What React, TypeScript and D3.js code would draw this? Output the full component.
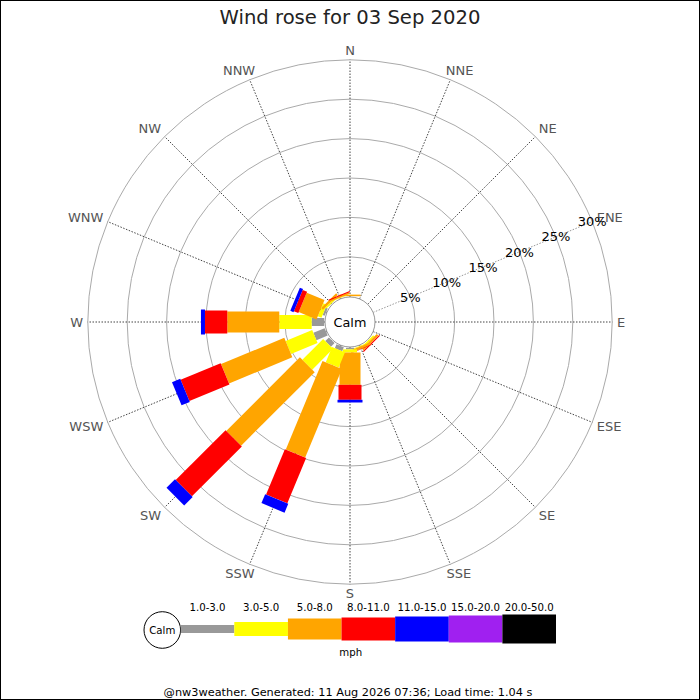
import React from "react";
import * as d3 from "d3";

const title = "Wind rose for 03 Sep 2020";
const footer = "@nw3weather. Generated: 11 Aug 2026 07:36; Load time: 1.04 s";
const unitLabel = "mph";
const calmLabel = "Calm";

const directions = ["N", "NNE", "NE", "ENE", "E", "ESE", "SE", "SSE", "S", "SSW", "SW", "WSW", "W", "WNW", "NW", "NNW"];
const speedRanges = ["1.0-3.0", "3.0-5.0", "5.0-8.0", "8.0-11.0", "11.0-15.0", "15.0-20.0", "20.0-50.0"];
const rangeColors = ["#999999", "#ffff00", "#ffa500", "#ff0000", "#0000ff", "#a020f0", "#000000"];
const gridTicks = [5, 10, 15, 20, 25, 30];

// percentage of time per speed range, one array per direction
const pctN = [0, 0, 0.2, 0, 0, 0, 0];
const pctNNE = [0, 0, 0, 0, 0, 0, 0];
const pctNE = [0, 0, 0, 0, 0, 0, 0];
const pctENE = [0, 0, 0, 0, 0, 0, 0];
const pctE = [0, 0, 0, 0, 0, 0, 0];
const pctESE = [0, 0, 0, 0, 0, 0, 0];
const pctSE = [0, 0.2, 0.3, 0.15, 0, 0, 0];
const pctSSE = [0, 0.1, 0.3, 0.05, 0, 0, 0];
const pctS = [0.2, 0.4, 4.1, 1.9, 0.34, 0, 0];
const pctSSW = [0.53, 2.09, 12.18, 6.23, 1.23, 0, 0];
const pctSW = [0.66, 3.73, 13.21, 8.95, 1.52, 0, 0];
const pctWSW = [1.55, 3.65, 8.69, 5.5, 1.13, 0, 0];
const pctW = [1.59, 4.11, 6.6, 2.83, 0.51, 0, 0];
const pctWNW = [0.28, 0.5, 2.44, 0.61, 0.44, 0, 0];
const pctNW = [0.05, 0.2, 0.3, 0, 0, 0, 0];
const pctNNW = [0, 0.05, 0.2, 0.12, 0, 0, 0];

const roseData = [pctN, pctNNE, pctNE, pctENE, pctE, pctESE, pctSE, pctSSE, pctS, pctSSW, pctSW, pctWSW, pctW, pctWNW, pctNW, pctNNW];

const W = 700;
const H = 700;
const CX = 350;
const CY = 322;
const CALM_R = 25;
const FONT = "'DejaVu Sans', Verdana, sans-serif";

const segWidth = d3.scaleOrdinal<number, number>().domain(d3.range(7)).range([8, 14, 21, 23, 25, 27, 29]);

const charW: Record<string, number> = { N: 0.748, E: 0.632, S: 0.635, W: 0.989 };

export default function App() {
  const rScale = d3.scaleLinear().domain([0, 30]).range([25.8, 262.2]);
  const angle = d3.scaleLinear().domain([0, directions.length]).range([0, 2 * Math.PI]);
  const rOuter = rScale(30);

  const legendX = d3.scaleLinear().domain([0, speedRanges.length]).range([180.7, 556]);
  const legendY = 629;

  const labelR = 267;
  const labelFont = 13;
  const capH = labelFont * 0.729;
  const clamp = (v: number) => Math.max(-1, Math.min(1, v));

  const ene = angle(3);

  return (
    <div style={{ position: "fixed", left: 0, top: 0, width: W, height: H, background: "#fff" }}>
      <svg width={W} height={H} viewBox={`0 0 ${W} ${H}`} style={{ display: "block", fontFamily: FONT }}>
        <rect x={0} y={0} width={W} height={H} fill="#fff" />
        <text x={W / 2} y={24} textAnchor="middle" fontSize={19.6} fill="#222">{title}</text>

        {/* grid circles */}
        {gridTicks.map((t) => (
          <circle key={t} cx={CX} cy={CY} r={rScale(t)} fill="none" stroke="#aaaaaa" strokeWidth={1} />
        ))}

        {/* radial lines */}
        {directions.map((d, i) => {
          const a = angle(i);
          const s = Math.sin(a), c = Math.cos(a);
          return (
            <line
              key={d}
              x1={CX + s * CALM_R}
              y1={CY - c * CALM_R}
              x2={CX + s * rOuter}
              y2={CY - c * rOuter}
              stroke={i === 3 ? "#999999" : "#444444"}
              strokeWidth={1}
              strokeDasharray="1.5,1.5"
            />
          );
        })}

        {/* compass labels */}
        {directions.map((d, i) => {
          const a = angle(i);
          const s = Math.sin(a), c = Math.cos(a);
          const w = d.split("").reduce((acc, ch) => acc + (charW[ch] || 0.7), 0) * labelFont;
          const px = CX + s * labelR;
          const py = CY - c * labelR;
          const cxl = px + clamp(s * Math.SQRT2) * (w / 2);
          const cyl = py - clamp(c * Math.SQRT2) * (capH / 2);
          return (
            <text key={d} x={cxl} y={cyl + capH / 2} textAnchor="middle" fontSize={labelFont} fill="#555555">
              {d}
            </text>
          );
        })}

        {/* wind bars */}
        {roseData.map((vals, i) => {
          const deg = (angle(i) * 180) / Math.PI;
          const cum = [0, ...d3.cumsum(vals)];
          return (
            <g key={directions[i]} transform={`translate(${CX},${CY}) rotate(${deg - 90})`}>
              {vals.map((v, j) => {
                if (v <= 0) return null;
                const r0 = rScale(cum[j]);
                const r1 = rScale(cum[j + 1]);
                const w = segWidth(j);
                return <rect key={j} x={r0} y={-w / 2} width={r1 - r0} height={w} fill={rangeColors[j]} />;
              })}
            </g>
          );
        })}

        {/* tick labels along ENE */}
        {gridTicks.map((t) => (
          <text
            key={"t" + t}
            x={CX + Math.sin(ene) * rScale(t)}
            y={CY - Math.cos(ene) * rScale(t) + 4.7}
            textAnchor="middle"
            fontSize={13}
            fill="#000"
          >
            {t}%
          </text>
        ))}

        {/* calm circle */}
        <circle cx={CX} cy={CY} r={CALM_R} fill="#fff" stroke="#999999" strokeWidth={1} />
        <text x={CX} y={CY + 4.7} textAnchor="middle" fontSize={12.8} fill="#000">{calmLabel}</text>

        {/* legend */}
        <circle cx={162.3} cy={630} r={18.3} fill="#fff" stroke="#000" strokeWidth={1} />
        <text x={162.3} y={633.6} textAnchor="middle" fontSize={10.2} fill="#000">{calmLabel}</text>
        {speedRanges.map((lab, j) => {
          const x0 = legendX(j);
          const x1 = legendX(j + 1);
          const h = segWidth(j);
          return (
            <g key={lab}>
              <rect x={x0} y={legendY - h / 2} width={x1 - x0} height={h} fill={rangeColors[j]} />
              <text x={(x0 + x1) / 2} y={610.7} textAnchor="middle" fontSize={10.2} fill="#000">{lab}</text>
            </g>
          );
        })}
        <text x={350.7} y={655.7} textAnchor="middle" fontSize={10.2} fill="#000">{unitLabel}</text>

        <text x={348} y={695.5} textAnchor="middle" fontSize={11.3} fill="#000">{footer}</text>

        <rect x={0.5} y={0.5} width={W - 1} height={H - 1} fill="none" stroke="#000" strokeWidth={1} />
      </svg>
    </div>
  );
}
